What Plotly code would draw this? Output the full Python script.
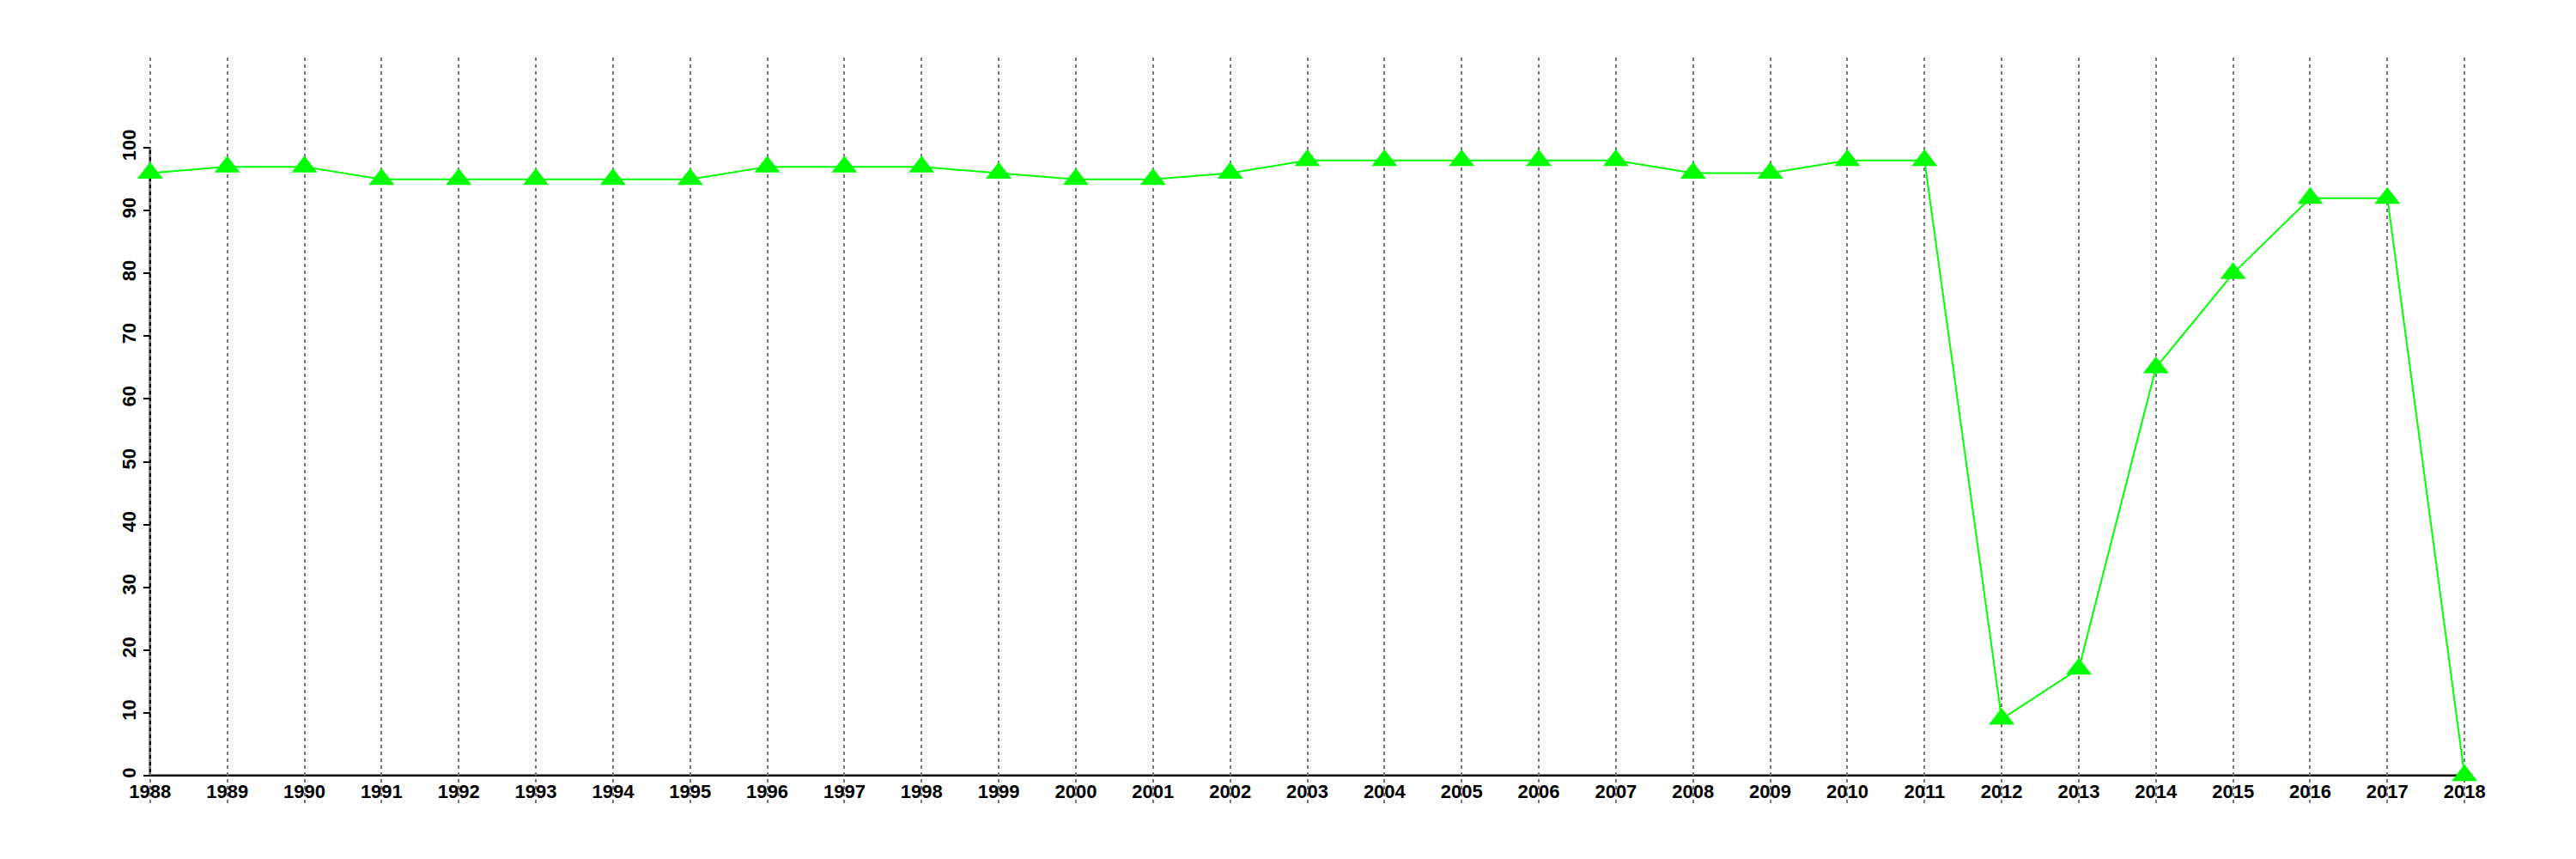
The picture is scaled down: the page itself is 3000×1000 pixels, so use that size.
import plotly.graph_objects as go

years = list(range(1988, 2019))
values = [96, 97, 97, 95, 95, 95, 95, 95, 97, 97, 97, 96, 95, 95, 96, 98,
          98, 98, 98, 98, 96, 96, 98, 98, 9, 17, 65, 80, 92, 92, 0]
y_ticks = list(range(0, 101, 10))

X_RANGE = [1986.8, 2019.2]
Y_RANGE = [-4.4, 114.4]

def frac(v, r):
    return (v - r[0]) / (r[1] - r[0])

fig = go.Figure()
fig.add_trace(go.Scatter(
    x=years, y=values, mode="lines+markers",
    line=dict(color="#00FF00", width=2),
    marker=dict(symbol="triangle-up", size=26, color="#00FF00"),
    showlegend=False, cliponaxis=False,
))

font = dict(family="Liberation Sans, Arial, sans-serif", size=22, color="black", weight="bold")

fig.update_layout(
    width=3000, height=1000,
    margin=dict(l=59, r=30, t=59, b=73, autoexpand=False),
    paper_bgcolor="white", plot_bgcolor="white",
    xaxis=dict(
        range=X_RANGE, tickmode="array", tickvals=years,
        ticktext=[str(y) for y in years],
        showgrid=True, gridcolor="#777777", gridwidth=2, griddash="4px,4px",
        zeroline=False, showline=False, automargin=False,
        ticks="", tickfont=font, ticklabelstandoff=3,
        anchor="free", position=frac(0, Y_RANGE),
    ),
    yaxis=dict(
        range=Y_RANGE, tickmode="array", tickvals=y_ticks,
        ticktext=[str(v) for v in y_ticks],
        showgrid=False, zeroline=False, showline=False, automargin=False,
        ticks="outside", ticklen=8, tickwidth=2, tickcolor="black",
        tickangle=-90, tickfont=font,
        anchor="free", position=frac(years[0], X_RANGE),
    ),
    shapes=[
        dict(type="line", xref="x", yref="y", x0=years[0], x1=years[-1], y0=0, y1=0,
             line=dict(color="black", width=2.5), layer="below"),
        dict(type="line", xref="x", yref="y", x0=years[0], x1=years[0], y0=0, y1=100,
             line=dict(color="black", width=2.5), layer="below"),
    ],
)

fig.write_html("out.html")
